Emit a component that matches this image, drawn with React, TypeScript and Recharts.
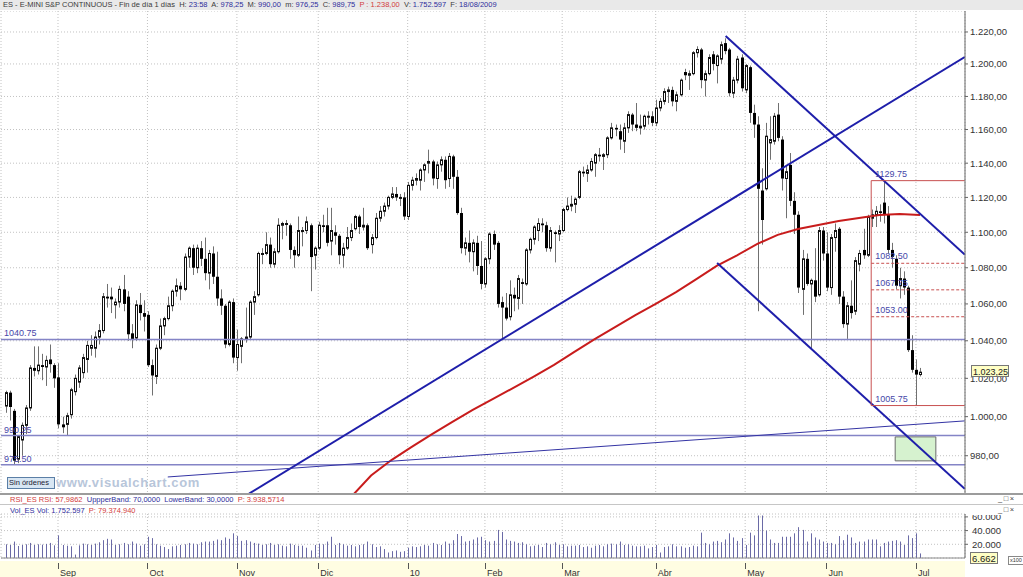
import React from 'react';
import {
  ComposedChart,
  Bar,
  Line,
  XAxis,
  YAxis,
  CartesianGrid,
  ReferenceLine,
  ReferenceArea,
} from 'recharts';

type OHLC = [number, number, number, number];

// daily candles [open, high, low, close]
const aug09: OHLC[] = [
  [1005.5, 1013.5, 1002, 1012.5], [1012.5, 1013.5, 998, 1005], [1003, 1004, 975.5, 977.5],
  [978.25, 990, 976.25, 989.75], [988, 997, 980, 995.5], [995.5, 1006, 991, 1004.5],
  [1004.5, 1027, 1003, 1025.5], [1025.5, 1037, 1021, 1024], [1024, 1037, 1022, 1027],
  [1027, 1033, 1019, 1026], [1026, 1032, 1016, 1029.5], [1030, 1038, 1023, 1027.5],
  [1027, 1028, 1015, 1020],
];
const sep09: OHLC[] = [
  [1020.5, 1028, 994, 996], [996, 1000, 991.5, 994.5], [996, 1002, 990.5, 1000.5],
  [1001, 1015, 999, 1014], [1013, 1022, 1011, 1020], [1018, 1027, 1015, 1025.5],
  [1023, 1033, 1020, 1031], [1030, 1040, 1023, 1037.5], [1036, 1043, 1032, 1037.5],
  [1036, 1045, 1031, 1042], [1042, 1049, 1038, 1045.5], [1045.5, 1066, 1044, 1064],
  [1064, 1071, 1058, 1063], [1064, 1069, 1055, 1062.5], [1059.5, 1063, 1052, 1061],
  [1061, 1070, 1058, 1068], [1068, 1076, 1056, 1060], [1064, 1067, 1040, 1043.5],
  [1044, 1049, 1036, 1041], [1041.5, 1062, 1040, 1059.5], [1059.5, 1066, 1051, 1055],
  [1055, 1062, 1045, 1053],
];
const oct09: OHLC[] = [
  [1054, 1056, 1026, 1027], [1027, 1030, 1011, 1021.5], [1021, 1038, 1017, 1036],
  [1036, 1052, 1035, 1048], [1048, 1053, 1043, 1052], [1052, 1064, 1051, 1059],
  [1059, 1068, 1056, 1067], [1067, 1074, 1064, 1070], [1070, 1072, 1062, 1068],
  [1068, 1088, 1067, 1086], [1086, 1092, 1080, 1091], [1091, 1093, 1076, 1080],
  [1080, 1093, 1077, 1091], [1091, 1095, 1081, 1085], [1085, 1097, 1073, 1077],
  [1077, 1090, 1068, 1088], [1088, 1092, 1071, 1075], [1075, 1089, 1059, 1063],
  [1063, 1068, 1054, 1059], [1059, 1060, 1036, 1038], [1038, 1062, 1037, 1061],
  [1061, 1063, 1028, 1031],
];
const nov09: OHLC[] = [
  [1031, 1046, 1024, 1038], [1037, 1042, 1028, 1041], [1041, 1058, 1039, 1042],
  [1042, 1062, 1041, 1061], [1061, 1067, 1054, 1064], [1065, 1089, 1064, 1088],
  [1088, 1091, 1082, 1088], [1088, 1100, 1087, 1093], [1093, 1097, 1080, 1082],
  [1082, 1091, 1080, 1089], [1089, 1108, 1088, 1104], [1104, 1106, 1096, 1105],
  [1105, 1107, 1098, 1105], [1104, 1105, 1085, 1090], [1090, 1092, 1080, 1087],
  [1087, 1109, 1086, 1101], [1101, 1103, 1092, 1101], [1101, 1109, 1099, 1106],
  [1104, 1105, 1067, 1086], [1087, 1092, 1079, 1091],
];
const dec09: OHLC[] = [
  [1091, 1106, 1090, 1104], [1104, 1110, 1100, 1103], [1104, 1114, 1092, 1094],
  [1095, 1114, 1087, 1101], [1100, 1104, 1093, 1098], [1098, 1099, 1082, 1087],
  [1087, 1094, 1080, 1091], [1091, 1103, 1090, 1097], [1097, 1105, 1095, 1101],
  [1102, 1110, 1101, 1109], [1109, 1110, 1099, 1103], [1103, 1114, 1101, 1104],
  [1104, 1105, 1090, 1091], [1093, 1099, 1088, 1097], [1097, 1111, 1096, 1108],
  [1108, 1115, 1106, 1112], [1112, 1117, 1109, 1115], [1115, 1121, 1113, 1120],
  [1120, 1126, 1119, 1122], [1122, 1126, 1118, 1120], [1120, 1122, 1115, 1120],
  [1120, 1123, 1107, 1109],
];
const jan10: OHLC[] = [
  [1109, 1129, 1107, 1127], [1127, 1132, 1124, 1130], [1130, 1134, 1127, 1131],
  [1130, 1137, 1124, 1136], [1136, 1140, 1129, 1139], [1140, 1148, 1134, 1141],
  [1141, 1142, 1127, 1131], [1131, 1141, 1125, 1139], [1139, 1144, 1135, 1142],
  [1142, 1144, 1125, 1130], [1131, 1146, 1126, 1144], [1144, 1145, 1125, 1132],
  [1132, 1136, 1110, 1111], [1111, 1114, 1088, 1091], [1091, 1097, 1087, 1094],
  [1094, 1101, 1083, 1089], [1089, 1096, 1078, 1094], [1094, 1098, 1076, 1081],
  [1081, 1095, 1068, 1071],
];
const feb10: OHLC[] = [
  [1071, 1086, 1069, 1085], [1085, 1100, 1082, 1099], [1099, 1101, 1090, 1093],
  [1094, 1095, 1058, 1060], [1061, 1064, 1041, 1058], [1058, 1066, 1051, 1052],
  [1053, 1073, 1051, 1065], [1065, 1069, 1056, 1063], [1063, 1076, 1057, 1074],
  [1072, 1074, 1060, 1071], [1071, 1091, 1070, 1090], [1090, 1097, 1088, 1096],
  [1096, 1104, 1093, 1103], [1101, 1108, 1095, 1105], [1105, 1108, 1100, 1104],
  [1104, 1106, 1089, 1091], [1091, 1103, 1089, 1101], [1100, 1101, 1083, 1099],
  [1099, 1104, 1095, 1101],
];
const mar10: OHLC[] = [
  [1101, 1114, 1100, 1113], [1113, 1120, 1112, 1115], [1115, 1121, 1112, 1116],
  [1116, 1120, 1111, 1119], [1120, 1136, 1119, 1135], [1135, 1138, 1132, 1134],
  [1134, 1139, 1129, 1136], [1136, 1143, 1135, 1141], [1140, 1146, 1132, 1145],
  [1145, 1149, 1141, 1144], [1144, 1146, 1136, 1145], [1145, 1156, 1143, 1155],
  [1155, 1164, 1154, 1161], [1161, 1163, 1156, 1160], [1159, 1163, 1148, 1154],
  [1153, 1164, 1146, 1161], [1161, 1171, 1158, 1169], [1169, 1170, 1159, 1163],
  [1163, 1176, 1159, 1161], [1161, 1169, 1157, 1162], [1162, 1169, 1160, 1168],
  [1168, 1171, 1163, 1168], [1168, 1171, 1162, 1164],
];
const apr10: OHLC[] = [
  [1164, 1178, 1162, 1173], [1173, 1179, 1171, 1177], [1177, 1185, 1175, 1183],
  [1183, 1186, 1176, 1184], [1184, 1186, 1174, 1177], [1177, 1183, 1171, 1181],
  [1181, 1191, 1180, 1190], [1195, 1197, 1190, 1193], [1193, 1196, 1184, 1194],
  [1194, 1208, 1193, 1207], [1207, 1211, 1204, 1209], [1209, 1210, 1185, 1190],
  [1190, 1196, 1180, 1194], [1194, 1206, 1193, 1204], [1206, 1208, 1196, 1200],
  [1199, 1206, 1188, 1205], [1203, 1214, 1200, 1212], [1213, 1216, 1206, 1208],
  [1209, 1210, 1180, 1182], [1182, 1192, 1179, 1190], [1190, 1205, 1188, 1203],
  [1204, 1206, 1183, 1185],
];
const may10: OHLC[] = [
  [1184, 1200, 1182, 1199], [1198, 1199, 1164, 1170], [1170, 1175, 1155, 1163],
  [1163, 1168, 1056, 1125], [1124, 1137, 1093, 1107], [1125, 1164, 1124, 1156],
  [1152, 1168, 1142, 1154], [1153, 1170, 1151, 1168], [1169, 1176, 1153, 1155],
  [1154, 1156, 1124, 1131], [1131, 1139, 1108, 1135], [1139, 1146, 1115, 1118],
  [1118, 1123, 1099, 1110], [1110, 1112, 1066, 1069], [1068, 1090, 1054, 1085],
  [1085, 1088, 1070, 1071], [1071, 1074, 1036, 1073], [1073, 1091, 1061, 1064],
  [1065, 1103, 1064, 1101], [1101, 1103, 1084, 1088],
];
const jun10: OHLC[] = [
  [1088, 1100, 1067, 1069], [1069, 1099, 1065, 1097], [1097, 1105, 1089, 1101],
  [1102, 1103, 1060, 1064], [1064, 1067, 1047, 1049], [1049, 1061, 1041, 1059],
  [1059, 1073, 1052, 1055], [1056, 1086, 1054, 1084], [1082, 1090, 1078, 1088],
  [1090, 1102, 1085, 1087], [1087, 1110, 1086, 1109], [1108, 1113, 1103, 1110],
  [1110, 1115, 1103, 1112], [1112, 1116, 1106, 1111], [1117, 1129.75, 1105, 1110],
  [1110, 1115, 1088, 1090], [1090, 1094, 1080, 1086], [1085, 1087, 1068, 1070],
  [1070, 1080, 1063, 1074], [1074, 1078, 1065, 1069], [1069, 1070, 1034, 1035],
  [1035, 1043, 1023, 1024.5],
];
const jul10: OHLC[] = [
  [1024.5, 1030, 1005.75, 1022], [1022, 1025.5, 1021, 1023.25],
];

// volume (x100 contracts)
const volAug09 = [20000, 19000, 24000, 17526, 19000, 20000, 22000, 19000, 20000, 19500, 20500, 22000, 18500];
const volSep09 = [33000, 19000, 18000, 17000, 5000, 18500, 21000, 20000, 19000, 21000, 23000, 26000, 28000, 27000, 19000, 20000, 22000, 20000, 24000, 21000, 18000, 20000];
const volOct09 = [31000, 29000, 20000, 18000, 16000, 13000, 17000, 18000, 19000, 20000, 22000, 21000, 20000, 23000, 24000, 24000, 25000, 27000, 26000, 30000, 28000, 36000];
const volNov09 = [32000, 25000, 26000, 24000, 22000, 21000, 19000, 20000, 22000, 19000, 20000, 18000, 17000, 21000, 19000, 18000, 18000, 15000, 11000, 19000];
const volDec09 = [21000, 20000, 24000, 31000, 19000, 22000, 20000, 18000, 19000, 17000, 19000, 20000, 24000, 20000, 16000, 17000, 13000, 8000, 10000, 11000, 9000, 10000];
const volJan10 = [15000, 17000, 16000, 17000, 19000, 18000, 22000, 20000, 19000, 24000, 21000, 26000, 35000, 32000, 24000, 25000, 27000, 30000, 31000];
const volFeb10 = [26000, 24000, 25000, 41000, 38000, 27000, 25000, 24000, 22000, 23000, 20000, 17000, 18000, 19000, 16000, 22000, 20000, 23000, 19000];
const volMar10 = [20000, 17000, 18000, 18000, 19000, 16000, 17000, 15000, 18000, 19000, 17000, 20000, 21000, 20000, 24000, 19000, 20000, 18000, 17000, 17000, 18000, 14000, 16000];
const volApr10 = [19000, 8000, 16000, 17000, 20000, 17000, 17000, 15000, 16000, 18000, 17000, 37000, 22000, 20000, 24000, 25000, 23000, 27000, 36000, 30000, 25000, 29000];
const volMay10 = [19000, 37000, 33000, 62000, 62000, 40000, 27000, 22000, 22000, 31000, 31000, 31000, 36000, 45000, 41000, 24000, 36000, 30000, 27000, 24000];
const volJun10 = [22000, 22000, 20000, 32000, 26000, 34000, 30000, 22000, 24000, 24000, 27000, 27000, 27000, 17000, 22000, 24000, 25000, 26000, 24000, 19000, 33000, 29000];
const volJul10 = [36000, 6662];

// month axis
const monthStarts = [13, 35, 57, 77, 99, 118, 137, 160, 182, 202, 224];
const monthLabels = ['Sep', 'Oct', 'Nov', 'Dic', '10', 'Feb', 'Mar', 'Abr', 'May', 'Jun', 'Jul'];

const priceTicks = [980, 1000, 1020, 1040, 1060, 1080, 1100, 1120, 1140, 1160, 1180, 1200, 1220];
const volTicks = [20000, 40000, 60000];

// red moving average, [bar index, price]
const maPoints: [number, number][] = [
  [84, 957], [90, 970], [95, 977.8], [100, 984.5], [105, 991], [110, 997.3], [115, 1003.5],
  [120, 1009.2], [125, 1015], [130, 1020.9], [135, 1027.1], [140, 1034], [145, 1040.9],
  [150, 1047.4], [155, 1053.9], [160, 1060], [165, 1066.5], [170, 1073.7], [175, 1081],
  [180, 1087], [185, 1093.4], [190, 1098.5], [195, 1101.9], [200, 1104.1], [205, 1106.4],
  [210, 1108.1], [215, 1109.8], [220, 1110.4], [225, 1109.8],
];

// drawn studies, [bar index, price]
const trendLines: [number, number][][] = [
  [[60, 961], [236, 1204.3]],
  [[177.2, 1217.4], [236, 1087.4]],
  [[175.1, 1082.7], [236, 963.4]],
];
const thinTrend: [number, number][] = [[40, 969.3], [236, 997.8]];
const levels = [1040.75, 990.25, 975.5];
const levelLabels = ['1040.75', '990.25', '975.50'];
const fibStart = 213;
const fibEnd = 236;
const fibTop = 1129.75;
const fibBottom = 1005.75;
const fibLevels = [1082.5, 1067.75, 1053];
const fibLabels = ['1082.50', '1067.75', '1053.00'];
const boxX = [218.9, 228.9];
const boxY = [977.4, 989.6];

const candles: OHLC[] = [
  ...aug09, ...sep09, ...oct09, ...nov09, ...dec09, ...jan10,
  ...feb10, ...mar10, ...apr10, ...may10, ...jun10, ...jul10,
];
const volumes = [
  ...volAug09, ...volSep09, ...volOct09, ...volNov09, ...volDec09, ...volJan10,
  ...volFeb10, ...volMar10, ...volApr10, ...volMay10, ...volJun10, ...volJul10,
];
const maMap = new Map(maPoints);
const rows = candles.map(([o, h, l, c], i) => ({
  i, o, h, l, c,
  range: [l, h],
  vol: volumes[i],
  ma: maMap.has(i) ? maMap.get(i) : null,
}));
const lastClose = candles[candles.length - 1][3];
const lastVol = volumes[volumes.length - 1];

const X_DOMAIN: [number, number] = [-1.018, 236.07];
const FONT = '"Liberation Sans", Arial, sans-serif';
const BLUE = '#1e1eaa';
const DARK = '#3a3a3a';
const VAL = '#2e2e9c';
const RED = '#d23c3c';

const group = (s: string) => s.replace(/\B(?=(\d{3})+(?!\d))/g, '.');
const fmtPrice = (v: number) => {
  const [a, b] = v.toFixed(2).split('.');
  return `${group(a)},${b}`;
};
const fmtVol = (v: number) => group(String(Math.round(v)));

function Candle(props: any) {
  const { x, y, width, height, payload } = props;
  if (x == null || y == null || !payload) return null;
  const { o, h, l, c } = payload;
  const cx = Math.round(x + width / 2);
  const lh = Math.log(h);
  const span = lh - Math.log(l) || 1;
  const py = (v: number) => y + (height * (lh - Math.log(v))) / span;
  const top = py(Math.max(o, c));
  const bh = Math.max(py(Math.min(o, c)) - top, 1);
  return (
    <g>
      <line x1={cx + 0.5} x2={cx + 0.5} y1={y} y2={y + height} stroke="#707070" />
      {c >= o ? (
        <rect x={cx - 0.5} y={top} width={2} height={bh} fill="#fff" stroke="#111" />
      ) : (
        <rect x={cx - 1} y={top} width={3} height={bh} fill="#000" />
      )}
    </g>
  );
}

function VolBar(props: any) {
  const { x, y, width, height } = props;
  if (x == null || !height) return null;
  return <rect x={Math.round(x + width / 2)} y={y} width={1} height={height} fill="#6a6aa6" />;
}

function MonthTick(props: any) {
  const { x, y, payload } = props;
  const k = monthStarts.indexOf(payload.value);
  const px = Math.round(x) + 0.5;
  return (
    <g>
      <line x1={px} x2={px} y1={y + 5} y2={y + 11} stroke="#555" />
      <text x={x + 2} y={y + 18} fontSize={9} fill="#333">{monthLabels[k]}</text>
    </g>
  );
}

// last-price tag on the right axis; its rect covers the tick label below it
function priceTag(props: any) {
  const vb = props.viewBox || {};
  const xr = (vb.x || 0) + (vb.width || 0);
  const yc = Math.round(vb.y || 0);
  return (
    <g>
      <rect x={xr + 6.5} y={yc - 6.5} width={37} height={11} fill="#ffffc4" stroke="#777" />
      <text x={xr + 8} y={yc + 2.5} fontSize={9} fill="#222">{fmtPrice(lastClose)}</text>
    </g>
  );
}

function volTag(props: any) {
  const vb = props.viewBox || {};
  const xr = (vb.x || 0) + (vb.width || 0);
  const yc = Math.round(vb.y || 0);
  return (
    <g>
      <rect x={xr + 5.5} y={yc - 5.5} width={27} height={11} fill="#ffffc4" stroke="#777" />
      <text x={xr + 7} y={yc + 3.5} fontSize={9.5} fill="#222">{fmtVol(lastVol)}</text>
    </g>
  );
}

const headerParts: [string, string][] = [
  ['ES - E-MINI S&P CONTINUOUS - Fin de día 1 días  H: ', DARK], ['23:58', VAL],
  ['  A: ', DARK], ['978,25', VAL], ['  M: ', DARK], ['990,00', VAL],
  ['  m: ', DARK], ['976,25', VAL], ['  C: ', DARK], ['989,75', VAL],
  ['  P : ', RED], ['1.238,00', RED], ['  V: ', DARK], ['1.752.597', VAL],
  ['  F: ', DARK], ['18/08/2009', VAL],
];
const rsiParts: [string, string][] = [
  ['RSI_ES RSI: 57,9862  ', RED], ['UppperBand: 70,0000  LowerBand: 30,0000  ', VAL],
  ['P: 3.938,5714', RED],
];
const volParts: [string, string][] = [
  ['Vol_ES Vol: 1.752.597  ', VAL], ['P: 79.374.940', RED],
];

const textLine = (parts: [string, string][]) =>
  parts.map(([t, col], k) => (
    <span key={k} style={{ color: col }}>{t}</span>
  ));

const abs = (left: number, top: number, extra: React.CSSProperties = {}): React.CSSProperties => ({
  position: 'absolute', left, top, ...extra,
});

export default function App() {
  const seg = (p: [number, number][]) => [{ x: p[0][0], y: p[0][1] }, { x: p[1][0], y: p[1][1] }];
  return (
    <div style={{ position: 'absolute', left: 0, top: 0, width: 1023, height: 577, background: '#fff', overflow: 'hidden', fontFamily: FONT }}>
      <div style={abs(0, 0, { width: 1023, height: 10, background: '#e9e9e9', fontSize: 7.5, lineHeight: '10px', whiteSpace: 'pre', paddingLeft: 3 })}>
        {textLine(headerParts)}
      </div>

      <div style={abs(0, 11)}>
        <ComposedChart width={1023} height={483} data={rows} margin={{ top: 0, right: 0, bottom: 0, left: 1 }}>
          <CartesianGrid stroke="#c2c2c2" strokeDasharray="1 2" />
          <XAxis dataKey="i" type="number" domain={X_DOMAIN} allowDataOverflow ticks={monthStarts} interval={0} hide />
          <YAxis
            orientation="right"
            scale="log"
            domain={[960.8, 1233.3]}
            allowDataOverflow
            ticks={priceTicks}
            interval={0}
            tickFormatter={fmtPrice}
            width={58}
            tickSize={3}
            tickMargin={2}
            tick={{ fontSize: 9.5, fill: '#333' }}
            axisLine={{ stroke: '#666' }}
            tickLine={{ stroke: '#666' }}
          />
          {levels.map((v, k) => (
            <ReferenceLine
              key={`lv${k}`}
              y={v}
              stroke="#8484c6"
              strokeWidth={1.5}
              label={{ value: levelLabels[k], position: 'insideBottomLeft', offset: 3, fill: '#4646a8', fontSize: 9 }}
            />
          ))}
          <ReferenceArea x1={boxX[0]} x2={boxX[1]} y1={boxY[0]} y2={boxY[1]} fill="#d6f2cf" fillOpacity={1} stroke="#6a6a6a" ifOverflow="hidden" />
          <Bar dataKey="range" barSize={3} shape={(p: any) => <Candle {...p} />} isAnimationActive={false} />
          <Line dataKey="ma" stroke="#c81c1c" strokeWidth={2} dot={false} connectNulls isAnimationActive={false} />
          {trendLines.map((p, k) => (
            <ReferenceLine key={`tl${k}`} segment={seg(p)} stroke={BLUE} strokeWidth={2} ifOverflow="hidden" />
          ))}
          <ReferenceLine segment={seg(thinTrend)} stroke="#3434a4" strokeWidth={1} ifOverflow="hidden" />
          <ReferenceLine segment={[{ x: fibStart, y: fibBottom }, { x: fibStart, y: fibTop }]} stroke="#c85050" ifOverflow="hidden" />
          <ReferenceLine
            segment={[{ x: fibStart, y: fibTop }, { x: fibEnd, y: fibTop }]}
            stroke="#c85050"
            ifOverflow="hidden"
            label={{ value: '1129.75', position: 'insideBottomLeft', offset: 4, fill: '#4646a8', fontSize: 9 }}
          />
          <ReferenceLine
            segment={[{ x: fibStart, y: fibBottom }, { x: fibEnd, y: fibBottom }]}
            stroke="#c85050"
            ifOverflow="hidden"
            label={{ value: '1005.75', position: 'insideBottomLeft', offset: 4, fill: '#4646a8', fontSize: 9 }}
          />
          {fibLevels.map((v, k) => (
            <ReferenceLine
              key={`fb${k}`}
              segment={[{ x: fibStart, y: v }, { x: fibEnd, y: v }]}
              stroke="#c85050"
              strokeDasharray="3 2"
              ifOverflow="hidden"
              label={{ value: fibLabels[k], position: 'insideBottomLeft', offset: 4, fill: '#4646a8', fontSize: 9 }}
            />
          ))}
          <ReferenceLine y={lastClose} stroke="none" ifOverflow="visible" zIndex={2500} label={priceTag} />
        </ComposedChart>
      </div>

      <div style={abs(7, 477, { width: 45, height: 10, background: '#d8e6f3', border: '1px solid #5b7fa6', fontSize: 7.5, lineHeight: '10px', color: '#223', paddingLeft: 1 })}>
        Sin órdenes
      </div>
      <div style={abs(56, 475, { fontSize: 13, letterSpacing: 0.6, fontWeight: 'bold', color: '#b8c6da', whiteSpace: 'pre' })}>
        www.visualchart.com
      </div>

      <div style={abs(0, 493, { width: 1023, height: 2, background: '#9c9c9c' })} />
      <div style={abs(10, 495, { fontSize: 7.5, lineHeight: '9px', whiteSpace: 'pre' })}>{textLine(rsiParts)}</div>
      <div style={abs(998, 494, { fontSize: 7.5, lineHeight: '9px', color: '#444', letterSpacing: 1.5 })}>_□×</div>
      <div style={abs(0, 504, { width: 1023, height: 1, background: '#c6c6c6' })} />
      <div style={abs(10, 506, { fontSize: 7.5, lineHeight: '9px', whiteSpace: 'pre' })}>{textLine(volParts)}</div>

      <div style={abs(0, 561, { width: 965, height: 16, background: '#fffde2' })} />

      <div style={abs(0, 505)}>
        <ComposedChart width={1023} height={72} data={rows} margin={{ top: 9, right: 0, bottom: 0, left: 1 }}>
          <CartesianGrid stroke="#c2c2c2" strokeDasharray="1 2" />
          <XAxis
            dataKey="i"
            type="number"
            domain={X_DOMAIN}
            allowDataOverflow
            ticks={monthStarts}
            interval={0}
            height={19}
            tickSize={0}
            tickMargin={0}
            tickLine={false}
            axisLine={{ stroke: '#8a8a8a' }}
            tick={(p: any) => <MonthTick {...p} />}
          />
          <YAxis
            orientation="right"
            domain={[0, 64200]}
            allowDataOverflow
            ticks={volTicks}
            interval={0}
            tickFormatter={fmtVol}
            width={58}
            tickSize={3}
            tickMargin={4}
            tick={{ fontSize: 9.5, fill: '#333' }}
            axisLine={{ stroke: '#666' }}
            tickLine={{ stroke: '#666' }}
          />
          <Bar dataKey="vol" barSize={1} shape={(p: any) => <VolBar {...p} />} isAnimationActive={false} />
          <ReferenceLine y={0} stroke="none" ifOverflow="visible" label={volTag} />
        </ComposedChart>
      </div>
      {/* the panel header hides the upper half of the top volume label, as in the reference */}
      <div style={abs(966, 505, { width: 57, height: 10, background: '#fff' })} />
      <div style={abs(998, 505, { fontSize: 7.5, lineHeight: '9px', color: '#444', letterSpacing: 1.5 })}>_□×</div>
      <div style={abs(1008, 556, { fontSize: 5.5, lineHeight: '7px', border: '1px solid #888', color: '#333', padding: '0 1px', background: '#fff' })}>x100</div>
    </div>
  );
}
